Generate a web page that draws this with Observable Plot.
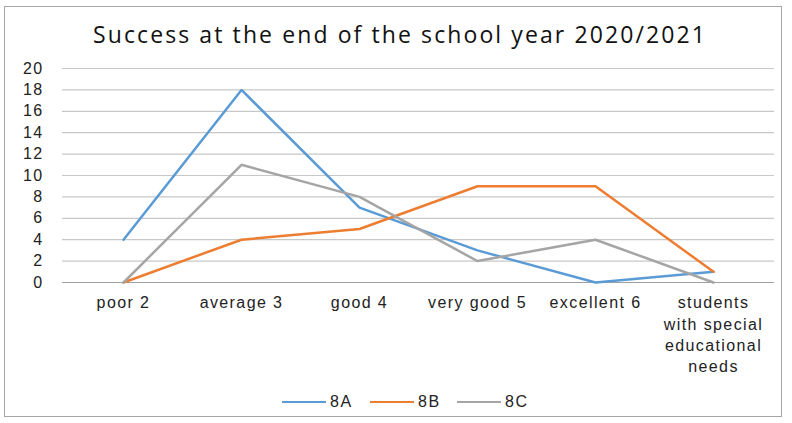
<!DOCTYPE html>
<html><head><meta charset="utf-8">
<script src="https://cdn.jsdelivr.net/npm/d3@7"></script>
<script src="https://cdn.jsdelivr.net/npm/@observablehq/plot@0.6"></script>
<style>
body{margin:0;background:#fff;font-family:"Liberation Sans",Arial,sans-serif;}
#wrap{position:relative;width:792px;height:423px;overflow:hidden;}
#frame{position:absolute;left:4px;top:6px;width:778px;height:411px;border:1px solid #a6a6a6;box-sizing:border-box;}
#title{position:absolute;left:0;top:18px;width:800px;text-align:center;font-family:"Open Sans",sans-serif;font-size:23px;letter-spacing:2.1px;color:#111;}
#chart{position:absolute;left:0;top:0;}
#legend{position:absolute;top:392px;left:0;width:792px;height:20px;font-size:16px;letter-spacing:1.5px;color:#222;}
.li{position:absolute;top:0;display:flex;align-items:center;height:20px;}
.li span.sw{display:inline-block;width:44px;height:2.5px;margin-right:4px;}
</style></head>
<body>
<div id="wrap">
<div id="frame"></div>
<div id="title">Success at the end of the school year 2020/2021</div>
<div id="chart"></div>
<div id="legend"></div>
</div>
<script>
const categories = ["poor 2","average 3","good 4","very good 5","excellent 6","students with special educational needs"];
const tickLabels = ["poor 2","average 3","good 4","very good 5","excellent 6","students\nwith special\neducational\nneeds"];
const series = ["8A","8B","8C"];
const values8A = [4,18,7,3,0,1];
const values8B = [0,4,5,9,9,1];
const values8C = [0,11,8,2,4,0];
const colors = ["#5b9bd5","#ed7d31","#a5a5a5"];
const yTicks = [0,2,4,6,8,10,12,14,16,18,20];

const allValues = [values8A, values8B, values8C];
const data = [];
series.forEach((s, i) => categories.forEach((c, j) => data.push({series: s, category: c, value: allValues[i][j]})));

const chart = Plot.plot({
  width: 792, height: 390,
  marginTop: 68, marginBottom: 108, marginLeft: 62, marginRight: 18,
  style: {fontFamily: "Liberation Sans, Arial, sans-serif", fontSize: "16px", letterSpacing: "1.4px", color: "#222", background: "transparent"},
  x: {type: "point", domain: categories, padding: 0.5},
  y: {domain: [0, 20]},
  color: {domain: series, range: colors},
  marks: [
    Plot.gridY(yTicks, {stroke: "#c8c8c8", strokeOpacity: 1, strokeWidth: 1.2}),
    Plot.ruleY([0], {stroke: "#a0a0a0", strokeWidth: 1.2}),
    Plot.axisY(yTicks, {tickSize: 0, tickPadding: 19, fontSize: 16, label: null}),
    Plot.axisX({tickSize: 0, tickPadding: 11, fontSize: 16, label: null, lineHeight: 1.32,
      tickFormat: d => tickLabels[categories.indexOf(d)]}),
    Plot.line(data, {x: "category", y: "value", z: "series", stroke: "series", strokeWidth: 2.5, strokeLinejoin: "miter"})
  ]
});
document.getElementById("chart").appendChild(chart);

const legend = document.getElementById("legend");
const legendX = [282, 370, 457];
series.forEach((s, i) => {
  const d = document.createElement("div");
  d.className = "li";
  d.style.left = legendX[i] + "px";
  d.innerHTML = `<span class="sw" style="background:${colors[i]}"></span>${s}`;
  legend.appendChild(d);
});
</script>
</body></html>
